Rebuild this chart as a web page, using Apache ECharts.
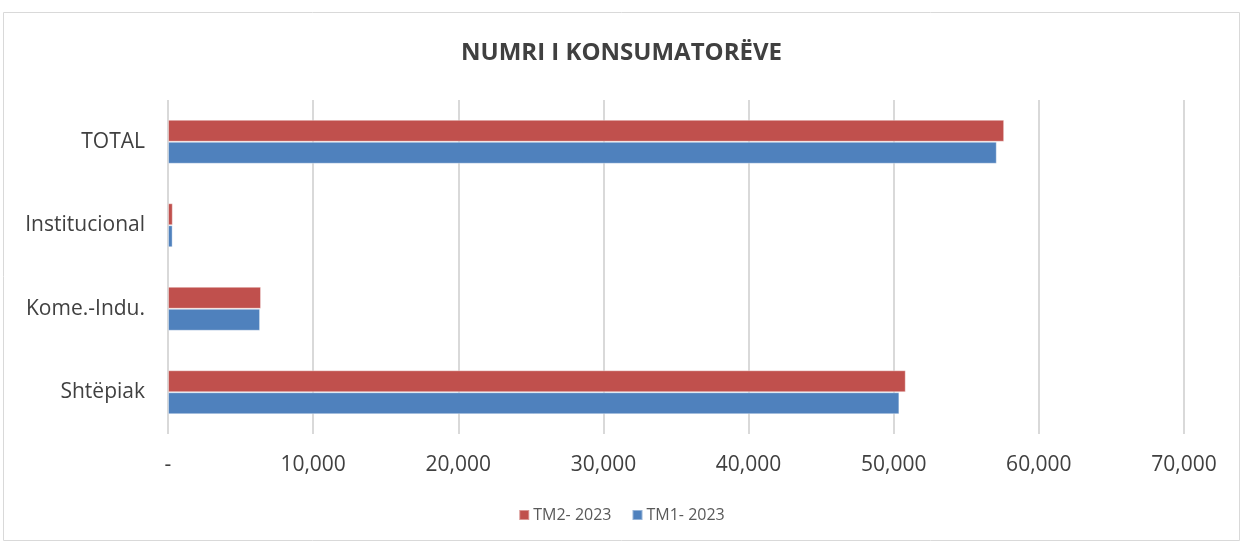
<!DOCTYPE html>
<html>
<head>
<meta charset="utf-8">
<script src="https://cdn.jsdelivr.net/npm/echarts@6/dist/echarts.min.js"></script>
<style>
  html, body { margin: 0; padding: 0; background: #fff; }
  #chart { width: 1243px; height: 542px; }
</style>
</head>
<body>
<div id="chart"></div>
<script>
const categories = ['Shtëpiak', 'Kome.-Indu.', 'Institucional', 'TOTAL'];
const tm2Values = [50830, 6410, 330, 57610];
const tm1Values = [50390, 6345, 320, 57100];
const seriesNames = ['TM2- 2023', 'TM1- 2023'];

const chart = echarts.init(document.getElementById('chart'));

const textColor = '#404040';

chart.setOption({
  animation: false,
  title: {
    text: 'NUMRI I KONSUMATORËVE',
    left: 'center',
    top: 36,
    textStyle: {
      fontFamily: 'Open Sans',
      fontWeight: 'bold',
      fontSize: 24,
      color: textColor
    }
  },
  graphic: [
    {
      type: 'rect',
      shape: { x: 3.5, y: 12.5, width: 1236, height: 528 },
      style: { fill: 'none', stroke: '#d9d9d9', lineWidth: 1 },
      silent: true
    }
  ],
  legend: {
    data: seriesNames,
    bottom: 14,
    left: 'center',
    itemWidth: 10,
    itemHeight: 10,
    itemGap: 20,
    icon: 'rect',
    textStyle: {
      fontFamily: 'Open Sans',
      fontSize: 16,
      color: '#595959',
      padding: [0, 0, 0, -1]
    }
  },
  grid: {
    left: 168,
    right: 59,
    top: 100,
    bottom: 108
  },
  xAxis: {
    type: 'value',
    min: 0,
    max: 70000,
    interval: 10000,
    axisLine: { show: false },
    axisTick: { show: false },
    splitLine: { lineStyle: { color: '#d9d9d9', width: 2 } },
    axisLabel: {
      margin: 21,
      fontFamily: 'Open Sans',
      fontSize: 21,
      color: textColor,
      formatter: (v) => (v === 0 ? '-' : v.toLocaleString('en-US'))
    }
  },
  yAxis: {
    type: 'category',
    data: categories,
    axisLine: { show: false },
    axisTick: { show: false },
    axisLabel: {
      margin: 23,
      fontFamily: 'Open Sans',
      fontSize: 21,
      color: textColor
    }
  },
  series: [
    {
      name: seriesNames[0],
      type: 'bar',
      data: tm2Values,
      barWidth: 22,
      barGap: '0%',
      itemStyle: { color: '#C0504D', borderColor: 'rgba(255,255,255,0.4)', borderWidth: 1 }
    },
    {
      name: seriesNames[1],
      type: 'bar',
      data: tm1Values,
      barWidth: 22,
      barGap: '0%',
      itemStyle: { color: '#4F81BD', borderColor: 'rgba(255,255,255,0.4)', borderWidth: 1 }
    }
  ]
});

window.addEventListener('resize', () => {
  chart.resize();
});
</script>
</body>
</html>
